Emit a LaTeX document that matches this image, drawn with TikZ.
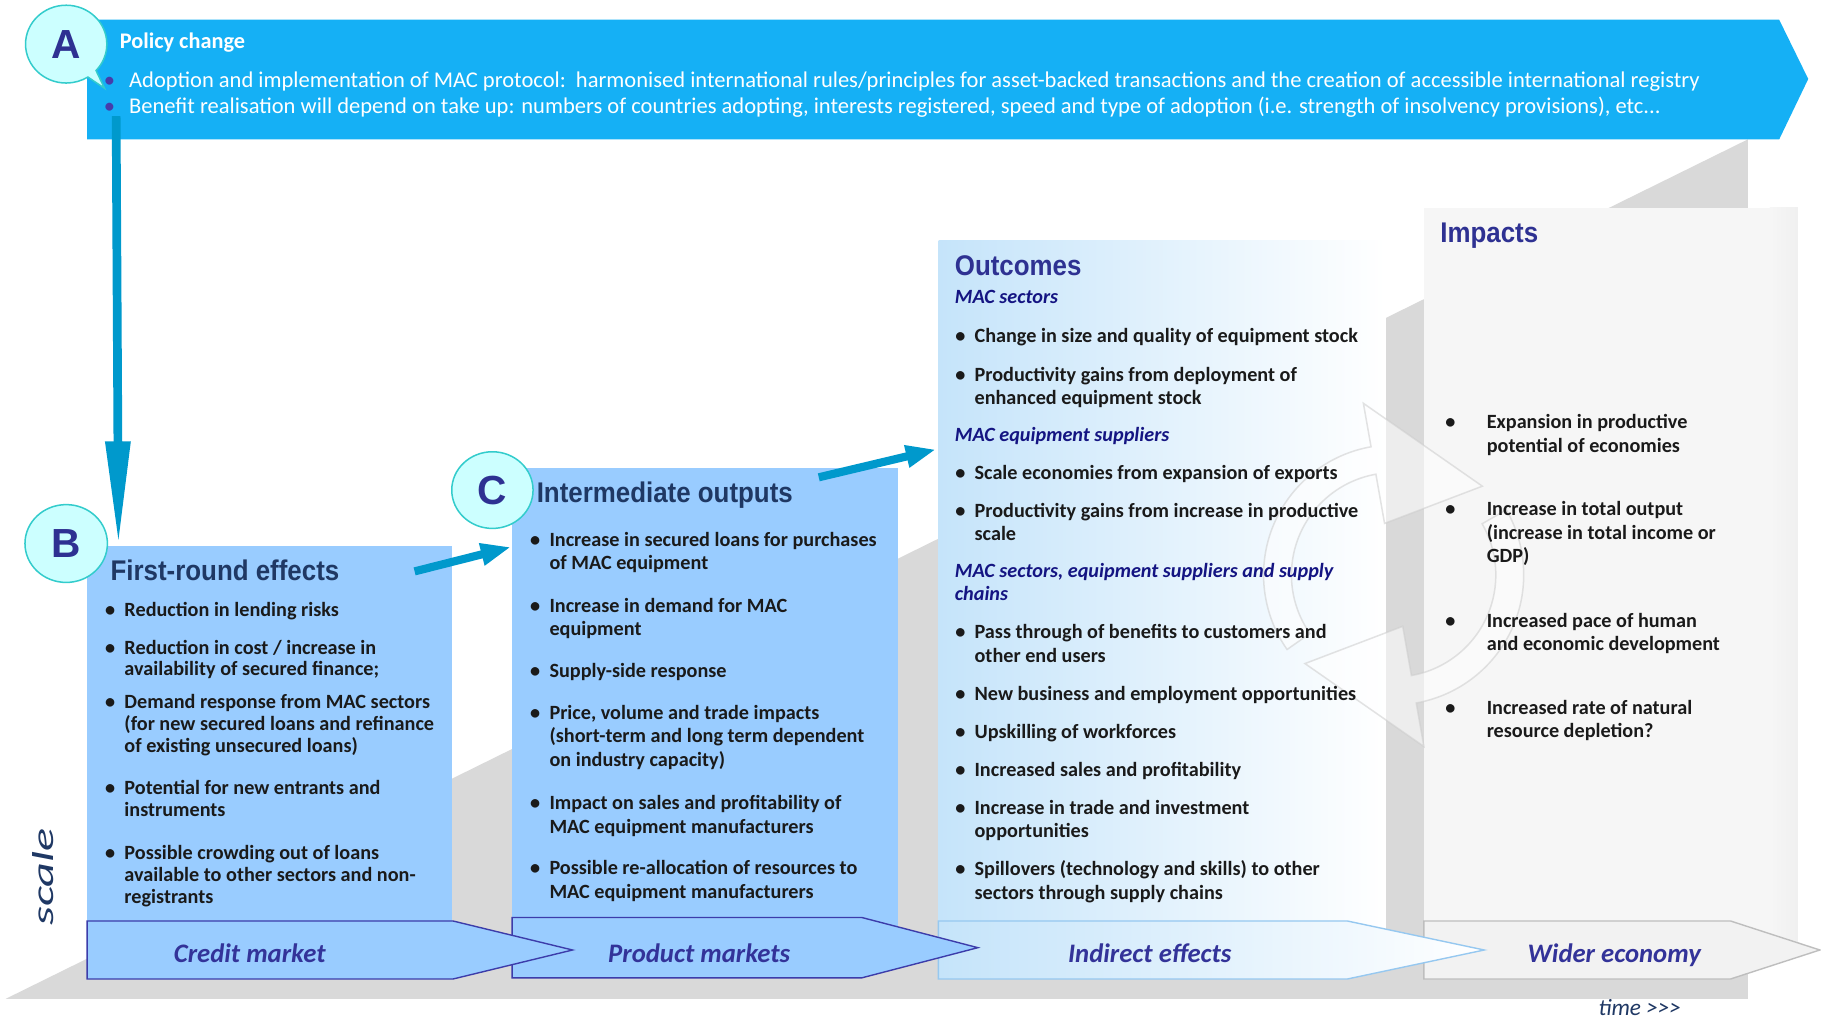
\documentclass[tikz,border=0pt]{standalone}
\usepackage{fontspec}
\setmainfont{Carlito}
\newfontfamily\arialf{Liberation Sans}
\usetikzlibrary{arrows.meta,shapes.geometric,shapes.callouts,calc}
\definecolor{bannerblue}{RGB}{21,176,245}
\definecolor{arrowblue}{RGB}{0,153,204}
\definecolor{boxblue}{RGB}{153,204,255}
\definecolor{navyT}{RGB}{31,56,100}
\definecolor{indigoT}{RGB}{46,49,146}
\definecolor{subblue}{RGB}{20,20,130}
\definecolor{lbltext}{RGB}{51,51,153}
\definecolor{circfill}{RGB}{204,255,255}
\definecolor{circline}{RGB}{51,204,204}
\definecolor{wedgegray}{RGB}{217,217,217}
\definecolor{lblline}{RGB}{60,60,170}
\definecolor{indline}{RGB}{150,200,240}
\definecolor{outleft}{RGB}{197,228,250}
\definecolor{impfill}{RGB}{246,246,246}
\definecolor{widefill}{RGB}{242,242,242}
\definecolor{wideline}{RGB}{190,190,190}
\definecolor{dotpurple}{RGB}{70,60,170}
\definecolor{txtblack}{RGB}{26,26,26}
\newcommand\bgap{8pt}
\newcommand\bitem[5][20]{\node[itm, font=\fontsize{17.4}{#1}\selectfont\bfseries] (#2) at (#3,{#4-0.7*#1}) {\strut\llap{\textbullet\hspace{\bgap}}#5};}
\newcommand\shead[4]{\node[itm, font=\fontsize{17.4}{20}\selectfont\bfseries\itshape, text=subblue] (#1) at (#2,{#3-14}) {\strut #4};}
\newcommand\ttl[1]{\scalebox{0.91}[1]{#1}}
\begin{document}
\begin{tikzpicture}[x=1pt,y=-1pt,
  itm/.style={anchor=north west, inner sep=0pt, align=left, text=txtblack},
  title/.style={anchor=base west, inner sep=0pt, font=\arialf\bfseries\fontsize{24.5}{28}\selectfont},
  circ/.style={ellipse, fill=circfill, draw=circline, line width=1.3pt, font=\arialf\bfseries\fontsize{35}{36}\selectfont, text=indigoT, inner sep=0pt},
  lbl/.style={anchor=base, inner sep=0pt, font=\fontsize{23}{25}\selectfont\bfseries\itshape, text=lbltext},
  conn/.style={draw=arrowblue, line width=7pt},
  wm/.style={fill=white, fill opacity=0.55, draw=gray!40, draw opacity=0.55, line width=1.3pt}]
\useasboundingbox (0,0) rectangle (1568,878);
\fill[white] (0,0) rectangle (1568,878);
% background wedge
\fill[wedgegray] (5,860) -- (1505,120) -- (1505,860) -- cycle;
% banner
\fill[bannerblue] (75,17) -- (1532,17) -- (1557,68) -- (1532,120) -- (75,120) -- cycle;
% boxes
\node[anchor=north west, inner sep=0pt, minimum width=314, minimum height=350, fill=boxblue] (boxB) at (75,470) {};
\node[anchor=north west, inner sep=0pt, minimum width=332, minimum height=417, fill=boxblue] (boxC) at (441,403) {};
\node[anchor=north west, inner sep=0pt, minimum width=385, minimum height=613, left color=outleft, right color=white] (boxO) at (808,207) {};
\node[anchor=north west, inner sep=0pt, minimum width=322, minimum height=641, fill=impfill] (boxI) at (1226,179) {};
\fill[left color=impfill, right color=gray!12] (1524,179) rectangle (1548,820);
% label arrows (right to left so that tips overlap)
\draw[fill=widefill, draw=wideline, line width=1.2pt] (1226,793) -- (1490,793) -- (1567,818) -- (1490,843) -- (1226,843) -- cycle;
\draw[left color=outleft, right color=white, draw=indline, line width=1.2pt] (808,793) -- (1160,793) -- (1278,818) -- (1160,843) -- (808,843) -- cycle;
\draw[fill=boxblue, draw=lblline, line width=1.2pt] (441,790) -- (742,790) -- (842,816) -- (742,842) -- (441,842) -- cycle;
\draw[fill=boxblue, draw=lblline, line width=1.2pt] (75,793) -- (390,793) -- (493,818) -- (390,843) -- (75,843) -- cycle;
\node[lbl] (lCredit) at (215,829) {Credit market};
\node[lbl] (lProduct) at (602,829) {Product markets};
\node[lbl] (lIndirect) at (990,829) {Indirect effects};
\node[lbl] (lWider) at (1390,829) {Wider economy};
% circular arrows watermark
\coordinate (cc) at (1200,495);
\path[wm] ($(cc)+(-215:112)$) arc[start angle=-215, end angle=-100, radius=112] -- ($(cc)+(-100:150)$) -- ($(cc)+(-45:108)$) -- ($(cc)+(-100:45)$) -- ($(cc)+(-100:88)$) arc[start angle=-100, end angle=-215, radius=88] -- cycle;
\path[wm] ($(cc)+(-30:112)$) arc[start angle=-30, end angle=80, radius=112] -- ($(cc)+(80:150)$) -- ($(cc)+(135:108)$) -- ($(cc)+(80:45)$) -- ($(cc)+(80:88)$) arc[start angle=80, end angle=-30, radius=88] -- cycle;
% circle A
\node[circ, ellipse callout, callout absolute pointer={(90,76)}, minimum width=70, minimum height=67] (circA) at (57,38) {A};
% banner text
\node[anchor=base west, inner sep=0pt, font=\fontsize{19.2}{20}\selectfont\bfseries, text=white] (pc) at (103,42) {Policy change};
\node[anchor=base west, inner sep=0pt, font=\fontsize{19.4}{20}\selectfont, text=white] (pl1) at (111,75) {\llap{\textcolor{dotpurple}{\textbullet}\hspace{12pt}}Adoption and implementation of MAC protocol:\ \ harmonised international rules/principles for asset-backed transactions and the creation of accessible international registry};
\node[anchor=base west, inner sep=0pt, font=\fontsize{19.4}{20}\selectfont, text=white] (pl2) at (111,98) {\llap{\textcolor{dotpurple}{\textbullet}\hspace{12pt}}Benefit realisation will depend on take up: numbers of countries adopting, interests registered, speed and type of adoption (i.e. strength of insolvency provisions), etc...};
% connectors
\coordinate (aFoot) at (100,100);
\coordinate (bTop) at (102,470);
\draw[conn, line width=7.5pt, -{Triangle[length=90pt,width=20pt]}] (aFoot) -- (bTop);
\coordinate (bcS) at (357,492);
\coordinate (bcE) at (440,471);
\draw[conn, -{Triangle[length=26pt,width=18pt]}] (bcS) -- (bcE);
\coordinate (coS) at (705,411);
\coordinate (coE) at (806,387);
\draw[conn, -{Triangle[length=26pt,width=18pt]}] (coS) -- (coE);
% circles B, C
\node[circ, minimum width=71, minimum height=67] (circB) at (57,468) {B};
\node[circ, minimum width=70, minimum height=66] (circC) at (424,422) {C};
% titles
\node[title, text=navyT] (tB) at (95,500) {\ttl{First-round effects}};
\node[title, text=navyT] (tC) at (462,433) {\ttl{Intermediate outputs}};
\node[title, text=indigoT] (tO) at (822,237) {\ttl{Outcomes}};
\node[title, text=indigoT] (tI) at (1240,209) {\ttl{Impacts}};
% B items
\bitem[18.7]{b1}{107}{531}{Reduction in lending risks}
\bitem[15]{b2}{107}{562}{Reduction in cost / increase in\\availability of secured finance;}
\bitem[18.7]{b3}{107}{610}{Demand response from MAC sectors\\(for new secured loans and refinance\\of existing unsecured loans)}
\bitem[18.7]{b4}{107}{684}{Potential for new entrants and\\instruments}
\bitem[18.7]{b5}{107}{740}{Possible crowding out of loans\\available to other sectors and non-\\registrants}
% C items
\bitem[20.3]{c1}{473}{470}{Increase in secured loans for purchases\\of MAC equipment}
\bitem[20.3]{c2}{473}{527}{Increase in demand for MAC\\equipment}
\bitem[20.3]{c3}{473}{583}{Supply-side response}
\bitem[20.3]{c4}{473}{619}{Price, volume and trade impacts\\(short-term and long term dependent\\on industry capacity)}
\bitem[20.3]{c5}{473}{697}{Impact on sales and profitability of\\MAC equipment manufacturers}
\bitem[20.3]{c6}{473}{753}{Possible re-allocation of resources to\\MAC equipment manufacturers}
% Outcomes
\shead{s1}{822}{261}{MAC sectors}
\bitem{o1}{839}{295}{Change in size and quality of equipment stock}
\bitem{o2}{839}{328}{Productivity gains from deployment of\\enhanced equipment stock}
\shead{s2}{822}{380}{MAC equipment suppliers}
\bitem{o3}{839}{413}{Scale economies from expansion of exports}
\bitem{o4}{839}{445}{Productivity gains from increase in productive\\scale}
\shead{s3}{822}{497}{MAC sectors, equipment suppliers and supply\\chains}
\bitem{o5}{839}{550}{Pass through of benefits to customers and\\other end users}
\bitem{o6}{839}{603}{New business and employment opportunities}
\bitem{o7}{839}{636}{Upskilling of workforces}
\bitem{o8}{839}{668}{Increased sales and profitability}
\bitem{o9}{839}{701}{Increase in trade and investment\\opportunities}
\bitem{o10}{839}{754}{Spillovers (technology and skills) to other\\sectors through supply chains}
% Impacts
\renewcommand\bgap{27pt}
\bitem{i1}{1280}{369}{Expansion in productive\\potential of economies}
\bitem{i2}{1280}{444}{Increase in total output\\(increase in total income or\\GDP)}
\bitem{i3}{1280}{540}{Increased pace of human\\and economic development}
\bitem{i4}{1280}{615}{Increased rate of natural\\resource depletion?}
% axis labels
\node[rotate=90, inner sep=0pt, font=\fontsize{26}{28}\selectfont\itshape, text=navyT] (scaleLbl) at (37,755) {\scalebox{1.6}[1]{scale}};
\node[anchor=base, inner sep=0pt, font=\fontsize{20}{22}\selectfont\itshape, text=navyT] (timeLbl) at (1412,874) {time >{}>{}>};
\end{tikzpicture}
\end{document}
